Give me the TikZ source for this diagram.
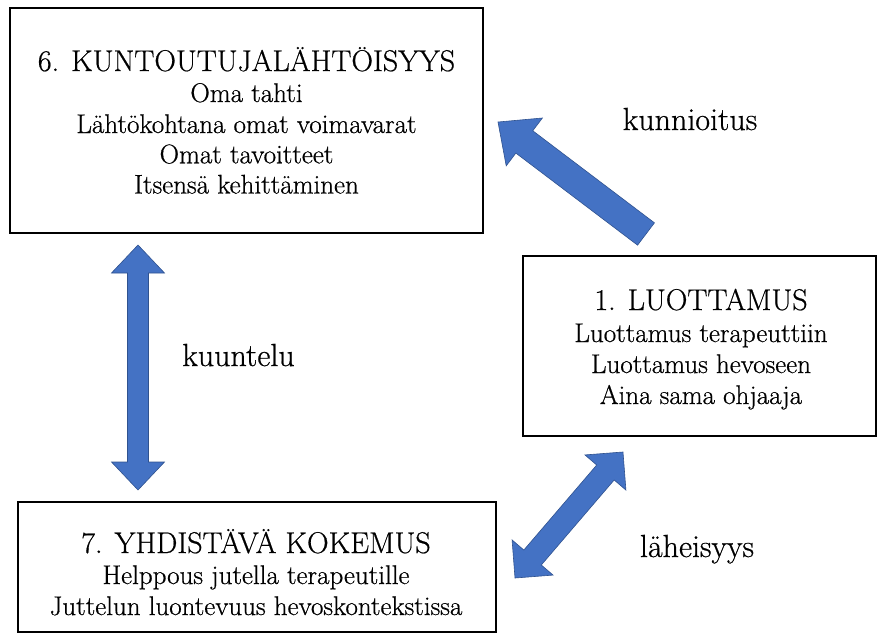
\documentclass[tikz,border=0pt]{standalone}
\usepackage{fontspec}
\setmainfont{Latin Modern Roman}[FakeBold=0.6]
\usetikzlibrary{calc}
\definecolor{arrowfill}{HTML}{4472C4}
\definecolor{arrowedge}{HTML}{2F528F}
\tikzset{
  box/.style={draw=black, line width=2.6pt, inner sep=0pt},
  headline/.style={anchor=base, inner sep=0pt, font=\fontsize{30}{36}\selectfont},
  itemline/.style={anchor=base, inner sep=0pt, font=\fontsize{27}{32}\selectfont},
  relation/.style={anchor=base, inner sep=0pt, font=\fontsize{32}{38}\selectfont},
  bigarrow/.style={fill=arrowfill, draw=arrowedge, line width=0.6pt, line join=miter},
}
% block arrow with one head: #1 tip, #2 tail, #3 half shaft width,
% #4 half head width, #5 head length
\newcommand\blockarrow[5]{%
  \coordinate (ba-h) at ($(#1)!#5!(#2)$);
  \path[bigarrow] (#1) -- ($(ba-h)!#4!90:(#2)$) -- ($(ba-h)!#3!90:(#2)$)
    -- ($(#2)!#3!-90:(#1)$) -- ($(#2)!#3!90:(#1)$)
    -- ($(ba-h)!#3!-90:(#2)$) -- ($(ba-h)!#4!-90:(#2)$) -- cycle;}
% block arrow with heads at both ends
\newcommand\blockdarrow[5]{%
  \coordinate (bd-a) at ($(#1)!#5!(#2)$);
  \coordinate (bd-b) at ($(#2)!#5!(#1)$);
  \path[bigarrow] (#1) -- ($(bd-a)!#4!90:(#2)$) -- ($(bd-a)!#3!90:(#2)$)
    -- ($(bd-b)!#3!-90:(#1)$) -- ($(bd-b)!#4!-90:(#1)$) -- (#2)
    -- ($(bd-b)!#4!90:(#1)$) -- ($(bd-b)!#3!90:(#1)$)
    -- ($(bd-a)!#3!-90:(#2)$) -- ($(bd-a)!#4!-90:(#2)$) -- cycle;}
\begin{document}
\begin{tikzpicture}[x=1pt,y=-1pt]
\useasboundingbox (0,0) rectangle (881,633);

% boxes
\node[box, minimum width=473pt, minimum height=225pt] (kunto) at (246.5,120.5) {};
\node[box, minimum width=353pt, minimum height=180pt] (luotto) at (699.5,346) {};
\node[box, minimum width=478pt, minimum height=130pt] (yhdis) at (257,567) {};

% 6. Kuntoutujalähtöisyys
\node[headline] (kunto-t) at (246.5,71) {6. KUNTOUTUJALÄHTÖISYYS};
\node[itemline] (kunto-1) at (246.5,102) {Oma tahti};
\node[itemline] (kunto-2) at (246.5,133) {Lähtökohtana omat voimavarat};
\node[itemline] (kunto-3) at (246.5,163.3) {Omat tavoitteet};
\node[itemline] (kunto-4) at (246.5,193.5) {Itsensä kehittäminen};

% 1. Luottamus
\node[headline] (luotto-t) at (701,310) {1. LUOTTAMUS};
\node[itemline] (luotto-1) at (701,342) {Luottamus terapeuttiin};
\node[itemline] (luotto-2) at (701,373) {Luottamus hevoseen};
\node[itemline] (luotto-3) at (701,404) {Aina sama ohjaaja};

% 7. Yhdistävä kokemus
\node[headline] (yhdis-t) at (256,553) {7. YHDISTÄVÄ KOKEMUS};
\node[itemline] (yhdis-1) at (256,584) {Helppous jutella terapeutille};
\node[itemline] (yhdis-2) at (256,615) {Juttelun luontevuus hevoskontekstissa};

% arrow end points
\coordinate (kun-tip) at (498,122);
\coordinate (kun-tail) at (646,234);
\coordinate (kuu-top) at (138,245);
\coordinate (kuu-bot) at (138,490);
\coordinate (lah-top) at (623,452);
\coordinate (lah-bot) at (515,578);

\blockarrow{kun-tip}{kun-tail}{14pt}{30pt}{33pt}
\blockdarrow{kuu-top}{kuu-bot}{10.5pt}{26.5pt}{28pt}
\blockdarrow{lah-top}{lah-bot}{11.5pt}{27pt}{27pt}

% relation labels
\node[relation] (kunnioitus) at (690,130) {kunnioitus};
\node[relation] (kuuntelu) at (238.5,366) {kuuntelu};
\node[relation] (laheisyys) at (697,557) {läheisyys};
\end{tikzpicture}
\end{document}
